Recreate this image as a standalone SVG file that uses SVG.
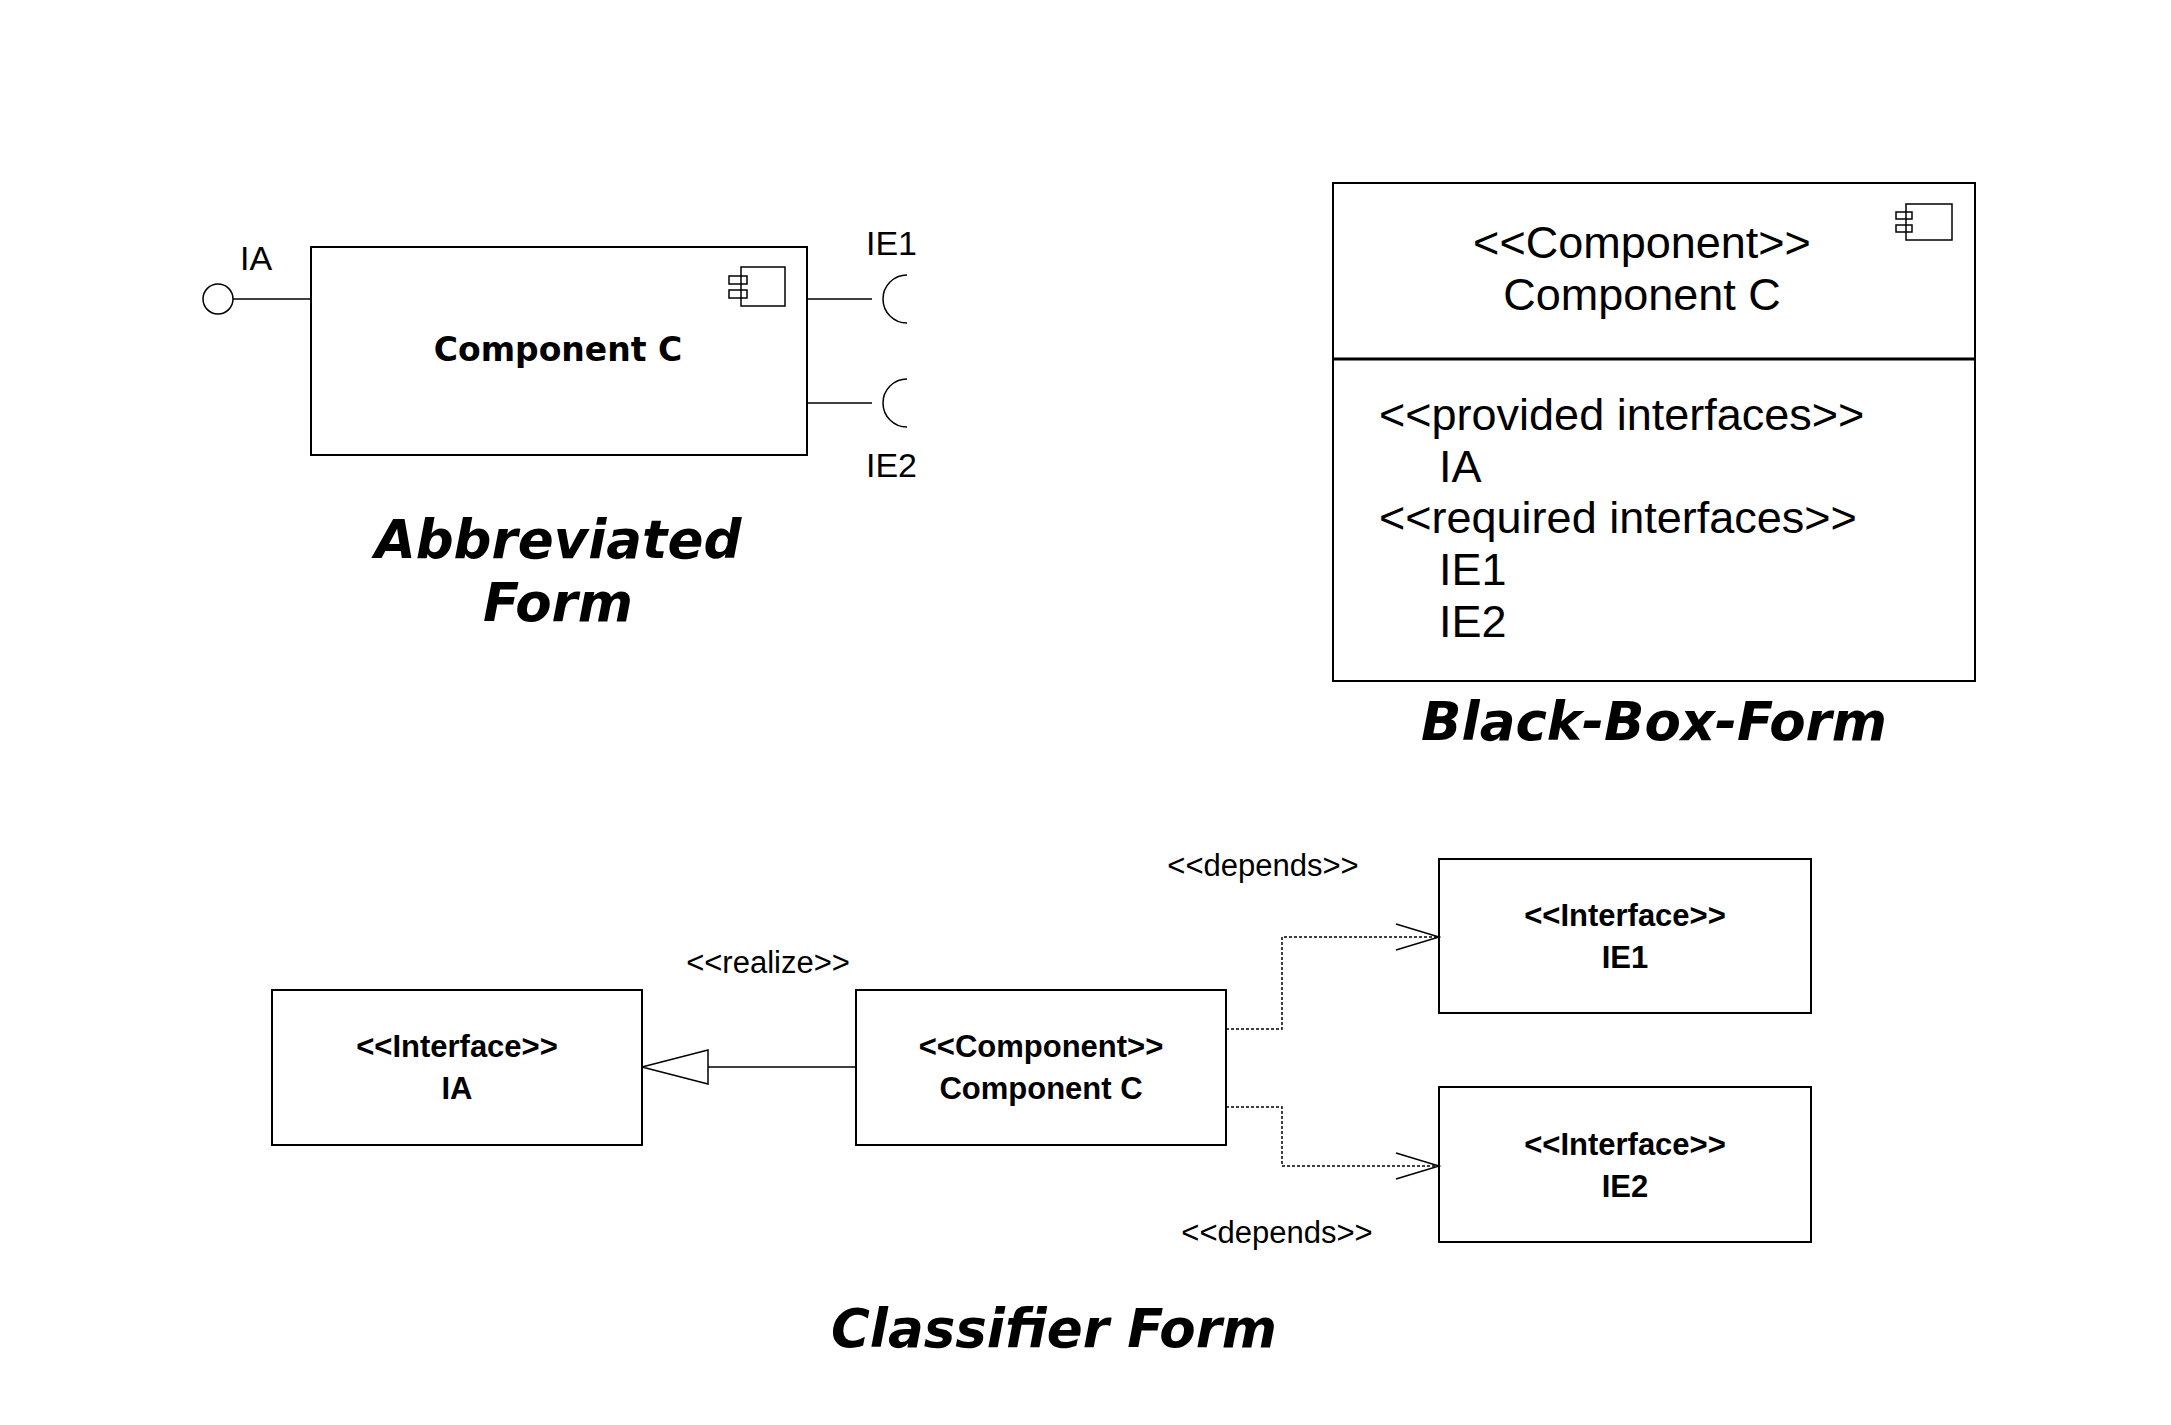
<svg xmlns="http://www.w3.org/2000/svg" width="2171" height="1425" viewBox="0 0 2171 1425">
<style>
.b{fill:#fff;stroke:#000;stroke-width:2}
.l{fill:none;stroke:#000;stroke-width:1.5}
.d{fill:none;stroke:#000;stroke-width:1.5;stroke-dasharray:3 2}
.t{font-family:"Liberation Sans",Arial,sans-serif;fill:#000}
.h{font-family:"DejaVu Sans",Verdana,sans-serif;font-weight:bold;font-style:oblique;font-size:53px;text-anchor:middle}
.c{font-family:"Liberation Sans",Arial,sans-serif;font-weight:bold;font-size:31px;text-anchor:middle}
</style>
<rect width="2171" height="1425" fill="#fff"/>
<g id="abbrev">
<rect class="b" x="311" y="247" width="496" height="208"/>
<rect class="l" x="741" y="267" width="44" height="39" fill="#fff"/>
<rect class="l" x="729" y="276" width="18" height="8" fill="#fff"/>
<rect class="l" x="729" y="290" width="18" height="8" fill="#fff"/>
<text x="558" y="361" font-family="DejaVu Sans,sans-serif" font-weight="bold" font-size="33" text-anchor="middle">Component C</text>
<circle class="l" cx="218" cy="299" r="15" fill="#fff"/>
<line class="l" x1="233" y1="299" x2="311" y2="299"/>
<text class="t" x="240" y="270" font-size="34">IA</text>
<line class="l" x1="807" y1="299" x2="872" y2="299"/>
<path class="l" d="M907,275 A24,24 0 0 0 907,323"/>
<line class="l" x1="807" y1="403" x2="872" y2="403"/>
<path class="l" d="M907,379 A24,24 0 0 0 907,427"/>
<text class="t" x="866" y="255" font-size="34">IE1</text>
<text class="t" x="866" y="477" font-size="34">IE2</text>
<text class="h" x="558" y="558">Abbreviated</text>
<text class="h" x="558" y="621">Form</text>
</g>
<g id="blackbox">
<rect class="b" x="1333" y="183" width="642" height="498"/>
<line x1="1333" y1="359" x2="1975" y2="359" stroke="#000" stroke-width="3"/>
<rect class="l" x="1906" y="204" width="46" height="36" fill="#fff"/>
<rect class="l" x="1896" y="212" width="16" height="7" fill="#fff"/>
<rect class="l" x="1896" y="225" width="16" height="7" fill="#fff"/>
<text class="t" x="1642" y="258" font-size="45" text-anchor="middle">&lt;&lt;Component&gt;&gt;</text>
<text class="t" x="1642" y="310" font-size="45" text-anchor="middle">Component C</text>
<text class="t" x="1379" y="430" font-size="45">&lt;&lt;provided interfaces&gt;&gt;</text>
<text class="t" x="1439" y="482" font-size="45">IA</text>
<text class="t" x="1379" y="533" font-size="45">&lt;&lt;required interfaces&gt;&gt;</text>
<text class="t" x="1439" y="585" font-size="45">IE1</text>
<text class="t" x="1439" y="637" font-size="45">IE2</text>
<text class="h" x="1654" y="740">Black-Box-Form</text>
</g>
<g id="n_ia"><rect class="b" x="272" y="990" width="370" height="155"/>
<text class="c" x="457" y="1057">&lt;&lt;Interface&gt;&gt;</text><text class="c" x="457" y="1099">IA</text></g>
<g id="n_comp"><rect class="b" x="856" y="990" width="370" height="155"/>
<text class="c" x="1041" y="1057">&lt;&lt;Component&gt;&gt;</text><text class="c" x="1041" y="1099">Component C</text></g>
<g id="n_ie1"><rect class="b" x="1439" y="859" width="372" height="154"/>
<text class="c" x="1625" y="926">&lt;&lt;Interface&gt;&gt;</text><text class="c" x="1625" y="968">IE1</text></g>
<g id="n_ie2"><rect class="b" x="1439" y="1087" width="372" height="155"/>
<text class="c" x="1625" y="1155">&lt;&lt;Interface&gt;&gt;</text><text class="c" x="1625" y="1197">IE2</text></g>
<g id="connectors">
<line class="l" x1="856" y1="1067" x2="708" y2="1067"/>
<polygon class="l" fill="#fff" points="642,1067 708,1050 708,1084"/>
<polyline class="d" points="1226,1029 1282,1029 1282,937 1439,937"/>
<polyline class="l" points="1396,924 1439,937 1396,950"/>
<polyline class="d" points="1226,1107 1282,1107 1282,1166 1439,1166"/>
<polyline class="l" points="1396,1153 1439,1166 1396,1179"/>
<text class="t" x="768" y="973" font-size="31" text-anchor="middle">&lt;&lt;realize&gt;&gt;</text>
<text class="t" x="1263" y="876" font-size="31" text-anchor="middle">&lt;&lt;depends&gt;&gt;</text>
<text class="t" x="1277" y="1243" font-size="31" text-anchor="middle">&lt;&lt;depends&gt;&gt;</text>
</g>
<text class="h" x="1054" y="1347">Classifier Form</text>
</svg>
